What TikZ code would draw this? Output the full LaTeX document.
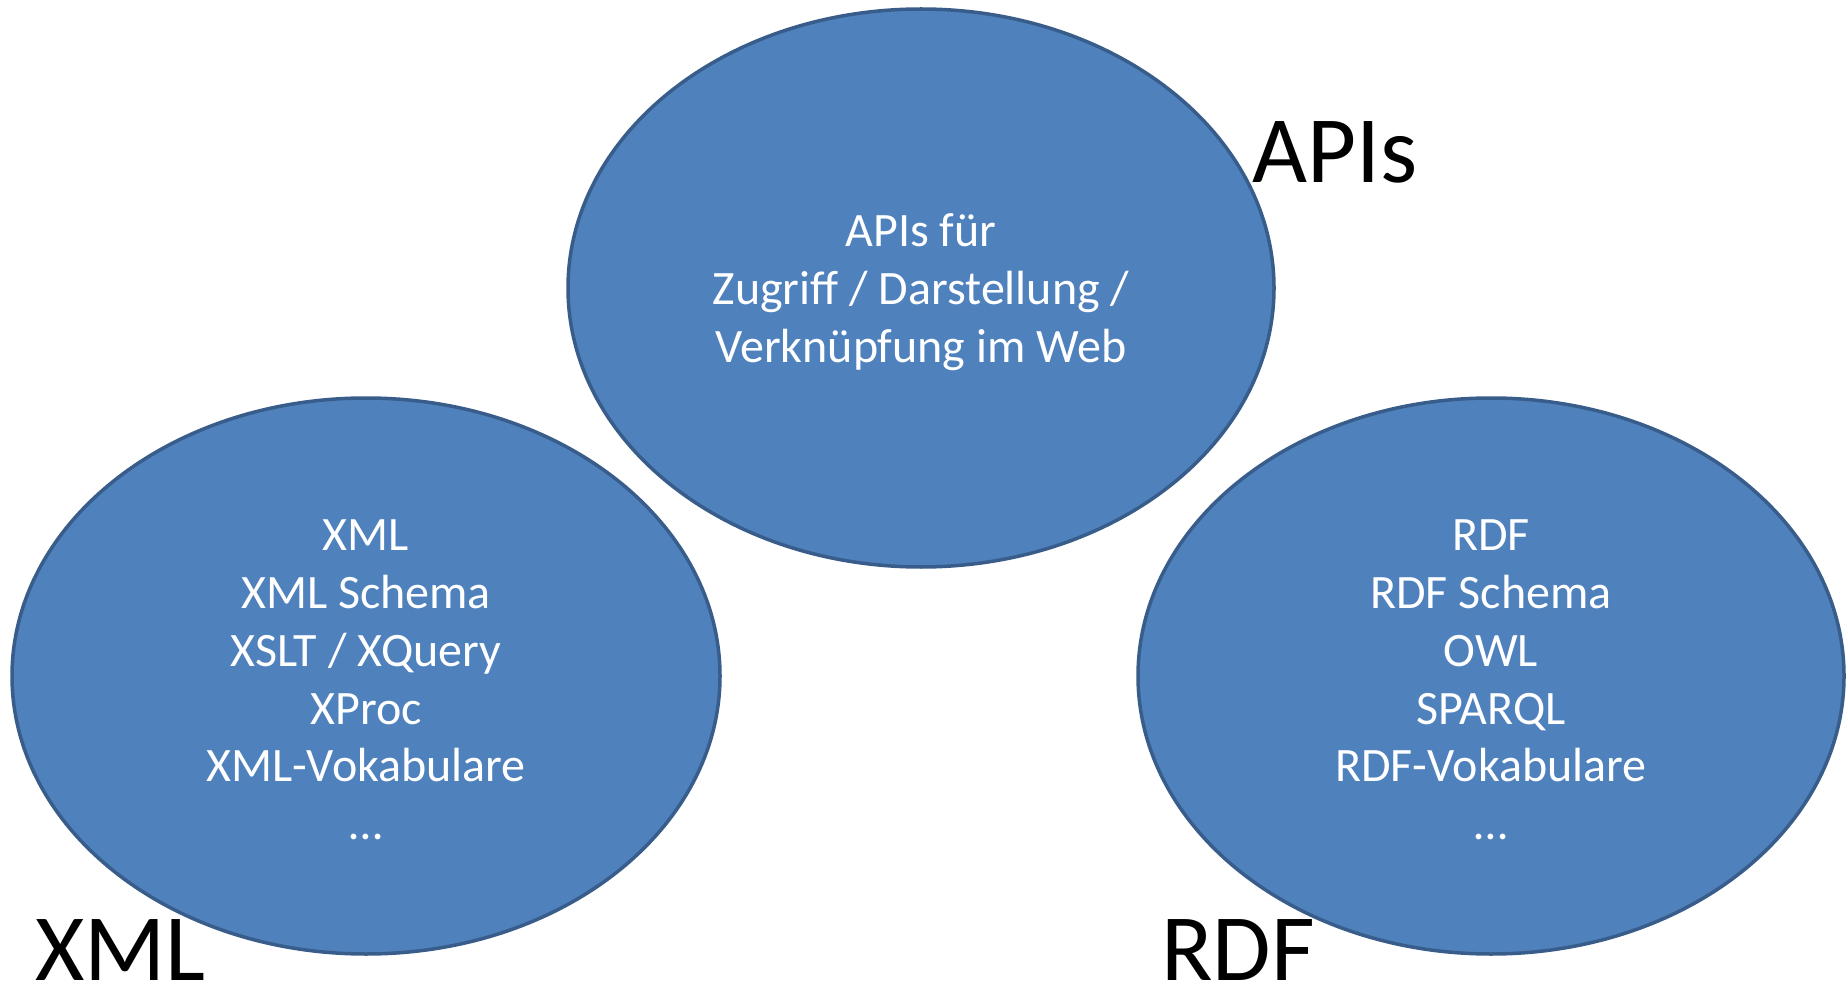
\documentclass[tikz,border=0pt]{standalone}
\usepackage{fontspec}
\setmainfont{Carlito}
\usetikzlibrary{shapes.geometric}
\definecolor{blobfill}{HTML}{4F81BD}
\definecolor{blobline}{HTML}{385D8A}
\tikzset{
  blob/.style={ellipse, fill=blobfill, draw=blobline, line width=3.5pt,
    inner sep=0pt},
  blobtext/.style={inner sep=0pt, text=white, align=center,
    font=\fontsize{48}{57.7}\selectfont},
  biglabel/.style={anchor=base west, inner sep=0pt, text=black,
    font=\fontsize{95}{110}\selectfont}
}
\begin{document}
\begin{tikzpicture}[x=1pt,y=-1pt]
\useasboundingbox (0,0) rectangle (1847,981);
\node[blob, minimum width=706pt, minimum height=558pt] (api) at (921,288) {};
\node[blob, minimum width=708pt, minimum height=556pt] (xml) at (366,676) {};
\node[blob, minimum width=706pt, minimum height=556pt] (rdf) at (1491,676) {};
\node[blobtext] (apit) at (921,292)
  {APIs für\\Zugriff / Darstellung /\\Verknüpfung im Web};
\node[blobtext] (xmlt) at (366,680)
  {XML\\XML Schema\\XSLT / XQuery\\XProc\\XML-Vokabulare\\…};
\node[blobtext] (rdft) at (1491,680)
  {RDF\\RDF Schema\\OWL\\SPARQL\\RDF-Vokabulare\\…};
\node[biglabel] (apil) at (1252,183) {APIs};
\node[biglabel] (xmll) at (35,980) {XML};
\node[biglabel] (rdfl) at (1161,980) {RDF};
\end{tikzpicture}
\end{document}
